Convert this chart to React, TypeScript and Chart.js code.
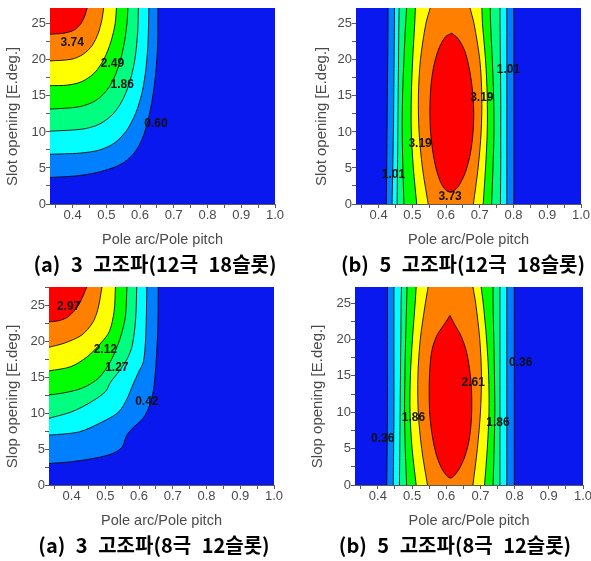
import React, { useEffect, useRef } from "react";
import { Chart, registerables } from "chart.js";

Chart.register(...registerables);

// ---------- shared axis values ----------
const X_MIN = 0.333;
const X_MAX = 1.0;
const X_STEP = 0.05;
const Y_STEP = 2.5;
// colour of each band, lowest level first
const bandColors = ["#0a18f0", "#0080ff", "#00ffff", "#00ff80", "#00ff00", "#ffff00", "#ff8000", "#ff0000"];

// ---------- (a) 3 고조파 (12극 18슬롯) : contour lines from the top edge to the left edge ----------
const a18Levels = [0.6, 1.23, 1.86, 2.49, 3.11, 3.74, 4.37];
const a18YMax = 27.2;
const a18Lines = [
  [[0.653, 27.2], [0.652, 22], [0.646, 18], [0.636, 14.5], [0.623, 11.5], [0.606, 9], [0.583, 7.1], [0.553, 5.8], [0.518, 5.0], [0.47, 4.35], [0.41, 3.9], [0.333, 3.68]],
  [[0.626, 27.2], [0.624, 23], [0.618, 19], [0.606, 15.5], [0.587, 12.6], [0.56, 10.2], [0.525, 8.5], [0.48, 7.5], [0.42, 7.05], [0.333, 6.91]],
  [[0.595, 27.2], [0.593, 24], [0.585, 20.2], [0.571, 17.2], [0.55, 14.6], [0.52, 12.5], [0.48, 11.1], [0.43, 10.4], [0.333, 10.11]],
  [[0.564, 27.2], [0.561, 25], [0.551, 21.8], [0.534, 18.8], [0.508, 16.2], [0.47, 14.4], [0.42, 13.5], [0.333, 13.17]],
  [[0.53, 27.2], [0.526, 25], [0.514, 22.6], [0.494, 20.2], [0.465, 18.2], [0.428, 17], [0.385, 16.5], [0.333, 16.42]],
  [[0.492, 27.2], [0.487, 25.6], [0.476, 23.7], [0.458, 22], [0.432, 20.8], [0.398, 20.1], [0.333, 19.85]],
  [[0.443, 27.2], [0.437, 26.2], [0.424, 25.0], [0.403, 24.1], [0.373, 23.7], [0.333, 23.56]],
];
const a18LabelText = ["3.74", "2.49", "1.86", "0.60"];
const a18LabelX = [0.399, 0.518, 0.547, 0.647];
const a18LabelY = [22.4, 19.5, 16.5, 11.2];

// ---------- (b) 5 고조파 (12극 18슬롯) : left / right boundary x at each row y, plus the closed core ----------
const b18Levels = [0.465, 1.01, 1.555, 2.1, 2.645, 3.19, 3.73];
const b18YMax = 27.2;
const b18RowY = [0, 5, 10, 15, 20, 25, 27.2];
const b18LeftX = [
  [0.423, 0.424, 0.425, 0.426, 0.427, 0.428, 0.428],
  [0.44, 0.442, 0.444, 0.445, 0.446, 0.447, 0.447],
  [0.455, 0.456, 0.457, 0.458, 0.459, 0.46, 0.461],
  [0.475, 0.472, 0.47, 0.471, 0.475, 0.48, 0.483],
  [0.513, 0.503, 0.497, 0.497, 0.501, 0.507, 0.509],
  [0.547, 0.53, 0.52, 0.518, 0.524, 0.54, 0.553],
];
const b18RightX = [
  [0.801, 0.801, 0.801, 0.801, 0.801, 0.801, 0.801],
  [0.78, 0.78, 0.78, 0.78, 0.78, 0.78, 0.78],
  [0.761, 0.762, 0.762, 0.762, 0.761, 0.76, 0.76],
  [0.735, 0.739, 0.742, 0.741, 0.737, 0.732, 0.731],
  [0.71, 0.717, 0.722, 0.722, 0.717, 0.708, 0.706],
  [0.681, 0.695, 0.704, 0.706, 0.7, 0.683, 0.671],
];
const b18CoreX = [0.617, 0.635, 0.655, 0.668, 0.677, 0.682, 0.68, 0.672, 0.658, 0.64, 0.625, 0.613, 0.6, 0.584, 0.57, 0.56, 0.554, 0.552, 0.555, 0.563, 0.578, 0.598, 0.617];
const b18CoreY = [23.7, 23.0, 21.3, 19.0, 16.3, 13.0, 10.0, 7.0, 4.5, 2.7, 1.9, 1.67, 1.9, 3.0, 5.0, 7.5, 10.0, 13.0, 16.3, 19.0, 21.5, 23.2, 23.7];
const b18LabelText = ["1.01", "3.19", "3.73", "3.19", "1.01"];
const b18LabelX = [0.444, 0.523, 0.612, 0.706, 0.785];
const b18LabelY = [4.1, 8.4, 0.97, 14.7, 18.7];

// ---------- (a) 3 고조파 (8극 12슬롯) ----------
const a12Levels = [0.42, 0.845, 1.27, 1.695, 2.12, 2.545, 2.97];
const a12YMax = 27.6;
const a12Lines = [
  [[0.657, 27.6], [0.655, 21], [0.645, 14], [0.632, 11.2], [0.612, 9.3], [0.58, 7.9], [0.562, 6.8], [0.55, 5.3], [0.522, 4.4], [0.47, 3.75], [0.4, 3.25], [0.333, 3.0]],
  [[0.623, 27.6], [0.62, 21], [0.613, 17.2], [0.599, 15.8], [0.581, 13.9], [0.565, 12.1], [0.54, 10.2], [0.491, 8.8], [0.422, 7.4], [0.333, 6.95]],
  [[0.593, 27.6], [0.59, 23.3], [0.58, 19.5], [0.565, 17.6], [0.54, 15.8], [0.515, 14.3], [0.5, 13.0], [0.455, 11.5], [0.4, 10.2], [0.333, 9.3]],
  [[0.564, 27.6], [0.56, 23.7], [0.55, 21.4], [0.535, 19.3], [0.515, 17.2], [0.48, 14.9], [0.431, 13.5], [0.372, 12.8], [0.333, 12.55]],
  [[0.53, 27.6], [0.526, 24.2], [0.512, 21.4], [0.487, 19.8], [0.447, 17.9], [0.398, 16.5], [0.333, 15.9]],
  [[0.49, 27.6], [0.478, 24.5], [0.462, 22.6], [0.43, 20.9], [0.38, 19.8], [0.333, 19.2]],
  [[0.445, 27.6], [0.421, 25.1], [0.391, 23.5], [0.362, 22.9], [0.333, 22.75]],
];
const a12LabelText = ["2.97", "2.12", "1.27", "0.42"];
const a12LabelX = [0.391, 0.5, 0.534, 0.623];
const a12LabelY = [24.9, 18.8, 16.3, 11.6];

// ---------- (b) 5 고조파 (8극 12슬롯) ----------
const b12Levels = [0.36, 0.735, 1.11, 1.485, 1.86, 2.235, 2.61];
const b12YMax = 27.2;
const b12RowY = [0, 5, 10, 15, 20, 25, 27.2];
const b12LeftX = [
  [0.426, 0.427, 0.428, 0.428, 0.428, 0.428, 0.428],
  [0.445, 0.446, 0.447, 0.447, 0.447, 0.447, 0.447],
  [0.463, 0.464, 0.465, 0.466, 0.467, 0.468, 0.469],
  [0.484, 0.48, 0.478, 0.479, 0.481, 0.484, 0.485],
  [0.512, 0.5, 0.494, 0.495, 0.501, 0.509, 0.512],
  [0.545, 0.528, 0.518, 0.517, 0.524, 0.539, 0.547],
];
const b12RightX = [
  [0.799, 0.799, 0.799, 0.799, 0.799, 0.799, 0.799],
  [0.777, 0.777, 0.777, 0.777, 0.777, 0.777, 0.777],
  [0.757, 0.757, 0.757, 0.757, 0.757, 0.757, 0.757],
  [0.737, 0.74, 0.742, 0.741, 0.739, 0.737, 0.737],
  [0.712, 0.72, 0.725, 0.724, 0.718, 0.708, 0.702],
  [0.678, 0.691, 0.7, 0.703, 0.698, 0.686, 0.678],
];
const b12CoreX = [0.611, 0.625, 0.643, 0.658, 0.668, 0.674, 0.674, 0.668, 0.655, 0.635, 0.612, 0.59, 0.572, 0.56, 0.552, 0.55, 0.552, 0.558, 0.572, 0.593, 0.611];
const b12CoreY = [23.3, 22.0, 20.5, 18.5, 16.0, 13.0, 9.5, 6.5, 4.0, 2.0, 0.95, 2.0, 4.0, 6.5, 9.5, 13.0, 16.0, 18.5, 20.5, 22.0, 23.3];
const b12LabelText = ["0.36", "1.86", "2.61", "1.86", "0.36"];
const b12LabelX = [0.414, 0.504, 0.679, 0.751, 0.818];
const b12LabelY = [6.3, 9.2, 14.0, 8.6, 16.8];

// ---------- helpers that turn the value arrays into Chart.js datasets ----------
type Pt = { x: number; y: number };
const P = (x: number, y: number): Pt => ({ x, y });
const gap = (): Pt => ({ x: NaN, y: NaN });

function cornerRegions(lines: number[][][], yMax: number): Pt[][] {
  return lines.map((ln) => {
    const pts = ln.map(([x, y]) => P(x, y));
    const last = pts[pts.length - 1];
    return [...pts, P(last.x, last.y), P(X_MIN, yMax)];
  });
}
function cornerStrokes(lines: number[][][]): Pt[] {
  const out: Pt[] = [];
  lines.forEach((ln, i) => {
    if (i) out.push(gap());
    ln.forEach(([x, y]) => out.push(P(x, y)));
  });
  return out;
}
function bandRegions(rowY: number[], leftX: number[][], rightX: number[][], coreX: number[], coreY: number[]): Pt[][] {
  const regs = leftX.map((lx, k) => {
    const left = rowY.map((y, i) => P(lx[i], y));
    const right = rowY.map((y, i) => P(rightX[k][i], y)).reverse();
    const lt = left[left.length - 1];
    return [...left, P(lt.x, lt.y), P(right[0].x, right[0].y), ...right];
  });
  regs.push(coreX.map((x, i) => P(x, coreY[i])));
  return regs;
}
function bandStrokes(rowY: number[], leftX: number[][], rightX: number[][], coreX: number[], coreY: number[]): Pt[] {
  const out: Pt[] = [];
  leftX.forEach((lx, k) => {
    rowY.forEach((y, i) => out.push(P(lx[i], y)));
    out.push(gap());
    rowY.map((y, i) => P(rightX[k][i], y)).reverse().forEach((p) => out.push(p));
    out.push(gap());
  });
  coreX.forEach((x, i) => out.push(P(x, coreY[i])));
  return out;
}

const FONT = "'Liberation Sans', Arial, sans-serif";
const TENSION = 0.3;
const YW = 48;
const XH = 50;
const PAD_T = 8;
const PAD_R = 14;

interface PanelDef {
  area: { l: number; t: number; r: number; b: number };
  yMax: number;
  levels: number[];
  yTitle: string;
  yTitlePad: number;
  caption: string;
  capX: number;
  capY: number;
  regions: Pt[][];
  strokes: Pt[];
  labels: { text: string[]; xs: number[]; ys: number[] };
}

const panels: PanelDef[] = [
  {
    area: { l: 50, t: 8, r: 275, b: 204 },
    yMax: a18YMax,
    levels: a18Levels,
    yTitle: "Slot opening [E.deg.]",
    yTitlePad: 2.3,
    caption: "(a) 3 고조파(12극 18슬롯)",
    capX: 155,
    capY: 263.5,
    regions: cornerRegions(a18Lines, a18YMax),
    strokes: cornerStrokes(a18Lines),
    labels: { text: a18LabelText, xs: a18LabelX, ys: a18LabelY },
  },
  {
    area: { l: 356, t: 8, r: 581, b: 204 },
    yMax: b18YMax,
    levels: b18Levels,
    yTitle: "Slot opening [E.deg.]",
    yTitlePad: 5,
    caption: "(b) 5 고조파(12극 18슬롯)",
    capX: 463,
    capY: 263.5,
    regions: bandRegions(b18RowY, b18LeftX, b18RightX, b18CoreX, b18CoreY),
    strokes: bandStrokes(b18RowY, b18LeftX, b18RightX, b18CoreX, b18CoreY),
    labels: { text: b18LabelText, xs: b18LabelX, ys: b18LabelY },
  },
  {
    area: { l: 49, t: 287, r: 274, b: 485 },
    yMax: a12YMax,
    levels: a12Levels,
    yTitle: "Slop opening [E.deg.]",
    yTitlePad: 2.7,
    caption: "(a) 3 고조파(8극 12슬롯)",
    capX: 154,
    capY: 545,
    regions: cornerRegions(a12Lines, a12YMax),
    strokes: cornerStrokes(a12Lines),
    labels: { text: a12LabelText, xs: a12LabelX, ys: a12LabelY },
  },
  {
    area: { l: 355, t: 287, r: 583, b: 485 },
    yMax: b12YMax,
    levels: b12Levels,
    yTitle: "Slop opening [E.deg.]",
    yTitlePad: 2.3,
    caption: "(b) 5 고조파(8극 12슬롯)",
    capX: 455,
    capY: 545,
    regions: bandRegions(b12RowY, b12LeftX, b12RightX, b12CoreX, b12CoreY),
    strokes: bandStrokes(b12RowY, b12LeftX, b12RightX, b12CoreX, b12CoreY),
    labels: { text: b12LabelText, xs: b12LabelX, ys: b12LabelY },
  },
];

const contourLabelPlugin = {
  id: "contourLabels",
  afterDatasetsDraw(chart: any, _args: any, opts: any) {
    if (!opts || !opts.text) return;
    const { ctx, scales } = chart;
    ctx.save();
    ctx.font = `bold 12px ${FONT}`;
    ctx.fillStyle = "#111";
    ctx.textAlign = "center";
    ctx.textBaseline = "middle";
    for (let i = 0; i < opts.text.length; i++) {
      ctx.fillText(opts.text[i], scales.x.getPixelForValue(opts.xs[i]), scales.y.getPixelForValue(opts.ys[i]));
    }
    ctx.restore();
  },
};

const tickGray = "#4a4a4a";
const axisGray = "#5a5a5a";

function makeConfig(def: PanelDef): any {
  const datasets: any[] = [];
  datasets.push({
    label: "below " + def.levels[0],
    data: [P(X_MIN, 0), P(X_MAX, 0), P(X_MAX, def.yMax), P(X_MIN, def.yMax)],
    fill: "shape",
    backgroundColor: bandColors[0],
    borderWidth: 0,
    borderColor: "rgba(0,0,0,0)",
    pointRadius: 0,
    tension: 0,
    order: 100,
  });
  def.regions.forEach((reg, k) => {
    datasets.push({
      label: "≥ " + def.levels[k],
      data: reg,
      fill: "shape",
      backgroundColor: bandColors[k + 1],
      borderWidth: 0,
      borderColor: "rgba(0,0,0,0)",
      pointRadius: 0,
      tension: TENSION,
      order: 50 - k,
    });
  });
  datasets.push({
    label: "contours",
    data: def.strokes,
    fill: false,
    borderColor: "rgba(0,0,0,0.85)",
    borderWidth: 1,
    pointRadius: 0,
    tension: TENSION,
    spanGaps: false,
    order: 0,
  });

  return {
    type: "line",
    data: { datasets },
    plugins: [contourLabelPlugin],
    options: {
      responsive: false,
      maintainAspectRatio: false,
      animation: false,
      devicePixelRatio: 1,
      events: [],
      layout: { padding: { left: 0, top: PAD_T, right: PAD_R, bottom: 0 } },
      plugins: {
        legend: { display: false },
        tooltip: { enabled: false },
        title: { display: false },
        contourLabels: def.labels,
      },
      scales: {
        x: {
          type: "linear",
          min: X_MIN,
          max: X_MAX,
          ticks: {
            stepSize: X_STEP,
            includeBounds: false,
            autoSkip: false,
            maxRotation: 0,
            padding: 0,
            color: tickGray,
            font: { family: FONT, size: 13 },
            callback: (v: number) => {
              const n = Math.round(v * 10);
              return Math.abs(v * 10 - n) < 1e-6 ? (n / 10).toFixed(1) : "";
            },
          },
          grid: { drawOnChartArea: false, drawTicks: true, tickLength: 4, color: axisGray },
          border: { display: true, color: axisGray, width: 1 },
          title: {
            display: true,
            text: "Pole arc/Pole pitch",
            color: tickGray,
            font: { family: FONT, size: 14.5 },
            padding: { top: 0, bottom: 5.8 },
          },
          afterFit: (s: any) => {
            s.height = XH;
          },
        },
        y: {
          type: "linear",
          min: 0,
          max: def.yMax,
          ticks: {
            stepSize: Y_STEP,
            includeBounds: false,
            autoSkip: false,
            padding: 0,
            color: tickGray,
            font: { family: FONT, size: 13 },
            callback: (v: number) => (Math.abs(v / 5 - Math.round(v / 5)) < 1e-6 ? String(Math.round(v)) : ""),
          },
          grid: { drawOnChartArea: false, drawTicks: true, tickLength: 4, color: axisGray },
          border: { display: true, color: axisGray, width: 1 },
          title: {
            display: true,
            text: def.yTitle + "     ",
            color: tickGray,
            font: { family: FONT, size: 15 },
            padding: { top: def.yTitlePad, bottom: 0 },
          },
          afterFit: (s: any) => {
            s.width = YW;
          },
        },
      },
    },
  };
}

function Panel({ def }: { def: PanelDef }) {
  const ref = useRef<HTMLCanvasElement>(null);
  const { l, t, r, b } = def.area;
  const left = l - YW;
  const top = t - PAD_T;
  const width = r - l + YW + PAD_R;
  const height = b - t + PAD_T + XH;
  useEffect(() => {
    const chart = new Chart(ref.current as HTMLCanvasElement, makeConfig(def));
    return () => chart.destroy();
  }, [def]);
  return (
    <>
      <canvas
        ref={ref}
        width={width}
        height={height}
        style={{ position: "absolute", left, top, width, height, display: "block" }}
      />
      <div
        style={{
          position: "absolute",
          left: def.capX - 160,
          width: 320,
          top: def.capY - 13,
          height: 26,
          lineHeight: "26px",
          textAlign: "center",
          whiteSpace: "pre",
          fontFamily: "'Noto Sans CJK KR', 'Noto Sans', sans-serif",
          fontWeight: 700,
          fontSize: 20,
          wordSpacing: 6,
          color: "#000",
        }}
      >
        {def.caption}
      </div>
    </>
  );
}

export default function App() {
  return (
    <div
      style={{
        position: "absolute",
        left: 0,
        top: 0,
        width: 591,
        height: 561,
        overflow: "hidden",
        background: "#fff",
      }}
    >
      {panels.map((p, i) => (
        <Panel key={i} def={p} />
      ))}
    </div>
  );
}
